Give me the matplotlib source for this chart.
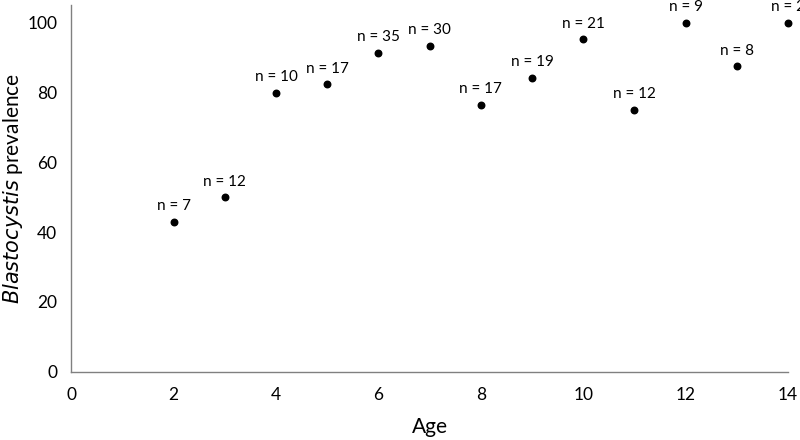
import matplotlib
matplotlib.use("Agg")
import matplotlib.pyplot as plt

ages = [2, 3, 4, 5, 6, 7, 8, 9, 10, 11, 12, 13, 14]
prevalence = [42.9, 50.0, 80.0, 82.4, 91.4, 93.3, 76.5, 84.2, 95.2, 75.0, 100.0, 87.5, 100.0]
sample_n = [7, 12, 10, 17, 35, 30, 17, 19, 21, 12, 9, 8, 2]
xticks = [0, 2, 4, 6, 8, 10, 12, 14]
yticks = [0, 20, 40, 60, 80, 100]

plt.rcParams['font.family'] = ['Lato', 'DejaVu Sans']

fig = plt.figure(figsize=(8, 4.4), dpi=100)
ax = fig.add_axes([0.089, 0.155, 0.896, 0.833])

ax.scatter(ages, prevalence, s=22, color='black', zorder=3, clip_on=False)
for a, p, n in zip(ages, prevalence, sample_n):
    ax.annotate(f"n = {n}", (a, p), xytext=(0, 8.4), textcoords='offset points',
                ha='center', va='baseline', fontsize=11, color='black',
                annotation_clip=False)

ax.set_xlim(0, 14)
ax.set_ylim(0, 105)
ax.set_xticks(xticks)
ax.set_yticks(yticks)
ax.tick_params(length=0, labelsize=12.5, colors='black')
ax.tick_params(axis='x', pad=11)
ax.tick_params(axis='y', pad=10)
for side in ['top', 'right']:
    ax.spines[side].set_visible(False)
for side in ['left', 'bottom']:
    ax.spines[side].set_color('#808080')
    ax.spines[side].set_linewidth(1)

ax.set_xlabel('Age', fontsize=15, va='center')
ax.xaxis.set_label_coords(0.5, -0.15)
ax.set_ylabel(r'$\it{Blastocystis}$ prevalence', fontsize=15, va='center')
ax.yaxis.set_label_coords(-0.081, 0.5)

fig.savefig('out.png', dpi=100)
